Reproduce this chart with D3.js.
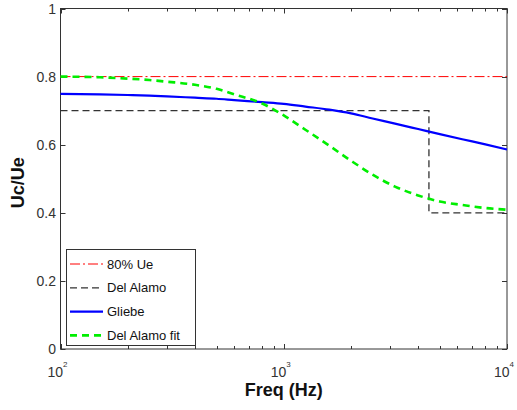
<!DOCTYPE html>
<html>
<head>
<meta charset="utf-8">
<script src="https://cdn.jsdelivr.net/npm/d3@7"></script>
<style>
  body { margin: 0; background: #fff; }
  svg text { font-family: "Liberation Sans", Arial, sans-serif; }
</style>
</head>
<body>
<svg width="517" height="410"></svg>
<script>
  // data
  const freqs = [100, 150, 200, 250, 300, 400, 500, 600, 800, 1000, 1250, 1600, 2000, 2500, 3150, 4000, 5000, 6300, 8000, 10000];
  const gliebe = [0.749, 0.748, 0.746, 0.744, 0.742, 0.738, 0.735, 0.731, 0.725, 0.720, 0.712, 0.703, 0.692, 0.677, 0.662, 0.646, 0.631, 0.616, 0.601, 0.586];
  const alamoFit = [0.800, 0.798, 0.794, 0.790, 0.785, 0.776, 0.764, 0.748, 0.721, 0.686, 0.644, 0.597, 0.553, 0.512, 0.477, 0.451, 0.433, 0.423, 0.414, 0.409];
  const alamoFreq = [100, 4470, 4470, 10000];
  const alamoVals = [0.7, 0.7, 0.4, 0.4];
  const ue80Freq = [100, 10000];
  const ue80Vals = [0.8, 0.8];
  const yTicks = [0, 0.2, 0.4, 0.6, 0.8, 1];
  const xMajor = [100, 1000, 10000];
  const xExp = ["2", "3", "4"];
  const legendNames = ["80% Ue", "Del Alamo", "Gliebe", "Del Alamo fit"];

  const svg = d3.select("svg"),
        margin = {top: 8.5, right: 10, bottom: 61, left: 60.5};
  const x0 = margin.left, x1 = 507, y0 = 349, y1 = margin.top;

  const x = d3.scaleLog().domain([100, 10000]).range([x0, x1]);
  const y = d3.scaleLinear().domain([0, 1]).range([y0, y1]);

  // minor ticks for log axis
  const minor = [];
  for (const d of [100, 1000]) for (let k = 2; k <= 9; k++) minor.push(d * k);

  const axes = svg.append("g").attr("stroke", "#333").attr("stroke-width", 1);

  // frame
  axes.append("rect")
    .attr("x", x0).attr("y", y1)
    .attr("width", x1 - x0).attr("height", y0 - y1)
    .attr("fill", "none");

  // x ticks, bottom and top, pointing in
  [[y0, -1], [y1, 1]].forEach(([yy, dir]) => {
    axes.selectAll(null).data(xMajor).enter().append("line")
      .attr("x1", d => Math.round(x(d)) + 0.5).attr("x2", d => Math.round(x(d)) + 0.5)
      .attr("y1", yy).attr("y2", yy + dir * 5);
    axes.selectAll(null).data(minor).enter().append("line")
      .attr("x1", d => Math.round(x(d)) + 0.5).attr("x2", d => Math.round(x(d)) + 0.5)
      .attr("y1", yy).attr("y2", yy + dir * 3);
  });

  // y ticks, left and right
  [[x0, 1], [x1, -1]].forEach(([xx, dir]) => {
    axes.selectAll(null).data(yTicks).enter().append("line")
      .attr("x1", xx).attr("x2", xx + dir * 5)
      .attr("y1", d => Math.round(y(d)) + 0.5).attr("y2", d => Math.round(y(d)) + 0.5);
  });

  // tick labels
  svg.selectAll(".ylab").data(yTicks).enter().append("text")
    .attr("class", "ylab")
    .attr("x", 56).attr("y", d => y(d))
    .attr("dy", "0.36em")
    .attr("text-anchor", "end")
    .attr("font-size", 14).attr("fill", "#333")
    .text(d => d);

  const xl = svg.selectAll(".xlab").data(xMajor).enter().append("text")
    .attr("class", "xlab")
    .attr("x", d => x(d) - 3).attr("y", 377)
    .attr("text-anchor", "middle")
    .attr("font-size", 14).attr("fill", "#333");
  xl.append("tspan").text("10");
  xl.append("tspan").attr("dy", -10).attr("font-size", 8).text((d, i) => xExp[i]);

  // axis titles
  svg.append("text")
    .attr("x", (x0 + x1) / 2).attr("y", 396)
    .attr("text-anchor", "middle")
    .attr("font-size", 18).attr("font-weight", "bold").attr("fill", "#111")
    .text("Freq (Hz)");
  svg.append("text")
    .attr("transform", `translate(24,${(y0 + y1) / 2 + 4}) rotate(-90)`)
    .attr("text-anchor", "middle")
    .attr("font-size", 18).attr("font-weight", "bold").attr("fill", "#111")
    .text("Uc/Ue");

  const line = d3.line().x(d => x(d[0])).y(d => y(d[1]));

  const series = [
    {pts: d3.zip(ue80Freq, ue80Vals), color: "#ff0000", width: 1, dash: "10,3,2,3"},
    {pts: d3.zip(alamoFreq, alamoVals), color: "#333", width: 1.3, dash: "7,4"},
    {pts: d3.zip(freqs, gliebe), color: "#0000ff", width: 2.2, dash: null},
    {pts: d3.zip(freqs, alamoFit), color: "#00ee00", width: 2.6, dash: "7,5"}
  ];

  const plot = svg.append("g");
  plot.selectAll("path").data(series).enter().append("path")
    .attr("d", d => line.curve(d.dash === "7,4" ? d3.curveLinear : d3.curveMonotoneX)(d.pts))
    .attr("fill", "none")
    .attr("stroke", d => d.color)
    .attr("stroke-width", d => d.width)
    .attr("stroke-dasharray", d => d.dash);

  // legend
  const lg = svg.append("g");
  lg.append("rect")
    .attr("x", 66.5).attr("y", 249.5).attr("width", 129).attr("height", 96)
    .attr("fill", "#fff").attr("stroke", "#333");
  const rows = lg.selectAll("g").data(series).enter().append("g")
    .attr("transform", (d, i) => `translate(0,${264 + i * 23.8})`);
  rows.append("line")
    .attr("x1", 70).attr("x2", 103).attr("y1", 0).attr("y2", 0)
    .attr("stroke", d => d.color)
    .attr("stroke-width", d => d.width)
    .attr("stroke-dasharray", d => d.dash);
  rows.append("text")
    .attr("x", 107).attr("y", 0).attr("dy", "0.36em")
    .attr("font-size", 13).attr("fill", "#111")
    .text((d, i) => legendNames[i]);
</script>
</body>
</html>
